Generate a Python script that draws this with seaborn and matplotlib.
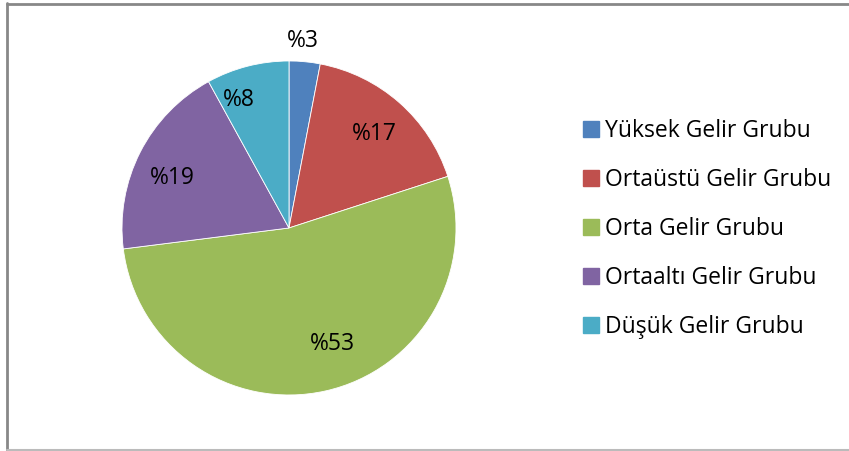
import numpy as np
import matplotlib
matplotlib.use("Agg")
import matplotlib.pyplot as plt
import seaborn as sns
from matplotlib.lines import Line2D

categories = ["Yüksek Gelir Grubu", "Ortaüstü Gelir Grubu", "Orta Gelir Grubu",
              "Ortaaltı Gelir Grubu", "Düşük Gelir Grubu"]
values = [3, 17, 53, 19, 8]
labels = ["%3", "%17", "%53", "%19", "%8"]
colors = ["#4F81BD", "#C0504D", "#9BBB59", "#8064A2", "#4BACC6"]

sns.set_theme(style="white")
plt.rcParams['font.family'] = ['Open Sans', 'DejaVu Sans']

fig = plt.figure(figsize=(8.49, 4.51), dpi=100)
ax = fig.add_axes([0.1437, 0.1242, 0.3934, 0.7406])
wedges, _ = ax.pie(values, colors=sns.color_palette(colors), startangle=90,
                   counterclock=False, radius=1.0,
                   wedgeprops=dict(edgecolor="white", linewidth=0.6))
ax.set_xlim(-1, 1)
ax.set_ylim(-1, 1)
ax.set_aspect("equal")
ax.axis("off")

dists = [1.12, 0.76, 0.74, 0.76, 0.82]
adj = [1, -1, 8, 4, 7]
for w, lab, d, a in zip(wedges, labels, dists, adj):
    ang = np.deg2rad((w.theta1 + w.theta2) / 2 + a)
    ax.text(d * np.cos(ang), d * np.sin(ang), lab, ha="center", va="center",
            fontsize=16.5, color="black", clip_on=False)

handles = [Line2D([0], [0], marker="s", linestyle="none", markersize=11,
                  markerfacecolor=c, markeredgecolor=c) for c in colors]
leg = fig.legend(handles, categories, loc="center left",
                 bbox_to_anchor=(563 / 849, 1 - 229 / 451), frameon=False,
                 fontsize=16.5, labelspacing=1.1, handlelength=0.6,
                 handletextpad=0.35)
for t in leg.get_texts():
    t.set_color("black")

# chart border
fig.add_artist(Line2D([7 / 849, 7 / 849], [1 - 3 / 451, 1 - 450 / 451],
                      transform=fig.transFigure, color="#888888", lw=2))
fig.add_artist(Line2D([7 / 849, 1], [1 - 4 / 451, 1 - 4 / 451],
                      transform=fig.transFigure, color="#888888", lw=2))
fig.add_artist(Line2D([7 / 849, 1], [1 - 449.5 / 451, 1 - 449.5 / 451],
                      transform=fig.transFigure, color="#bbbbbb", lw=1.5))

fig.savefig("out.png", dpi=100)
